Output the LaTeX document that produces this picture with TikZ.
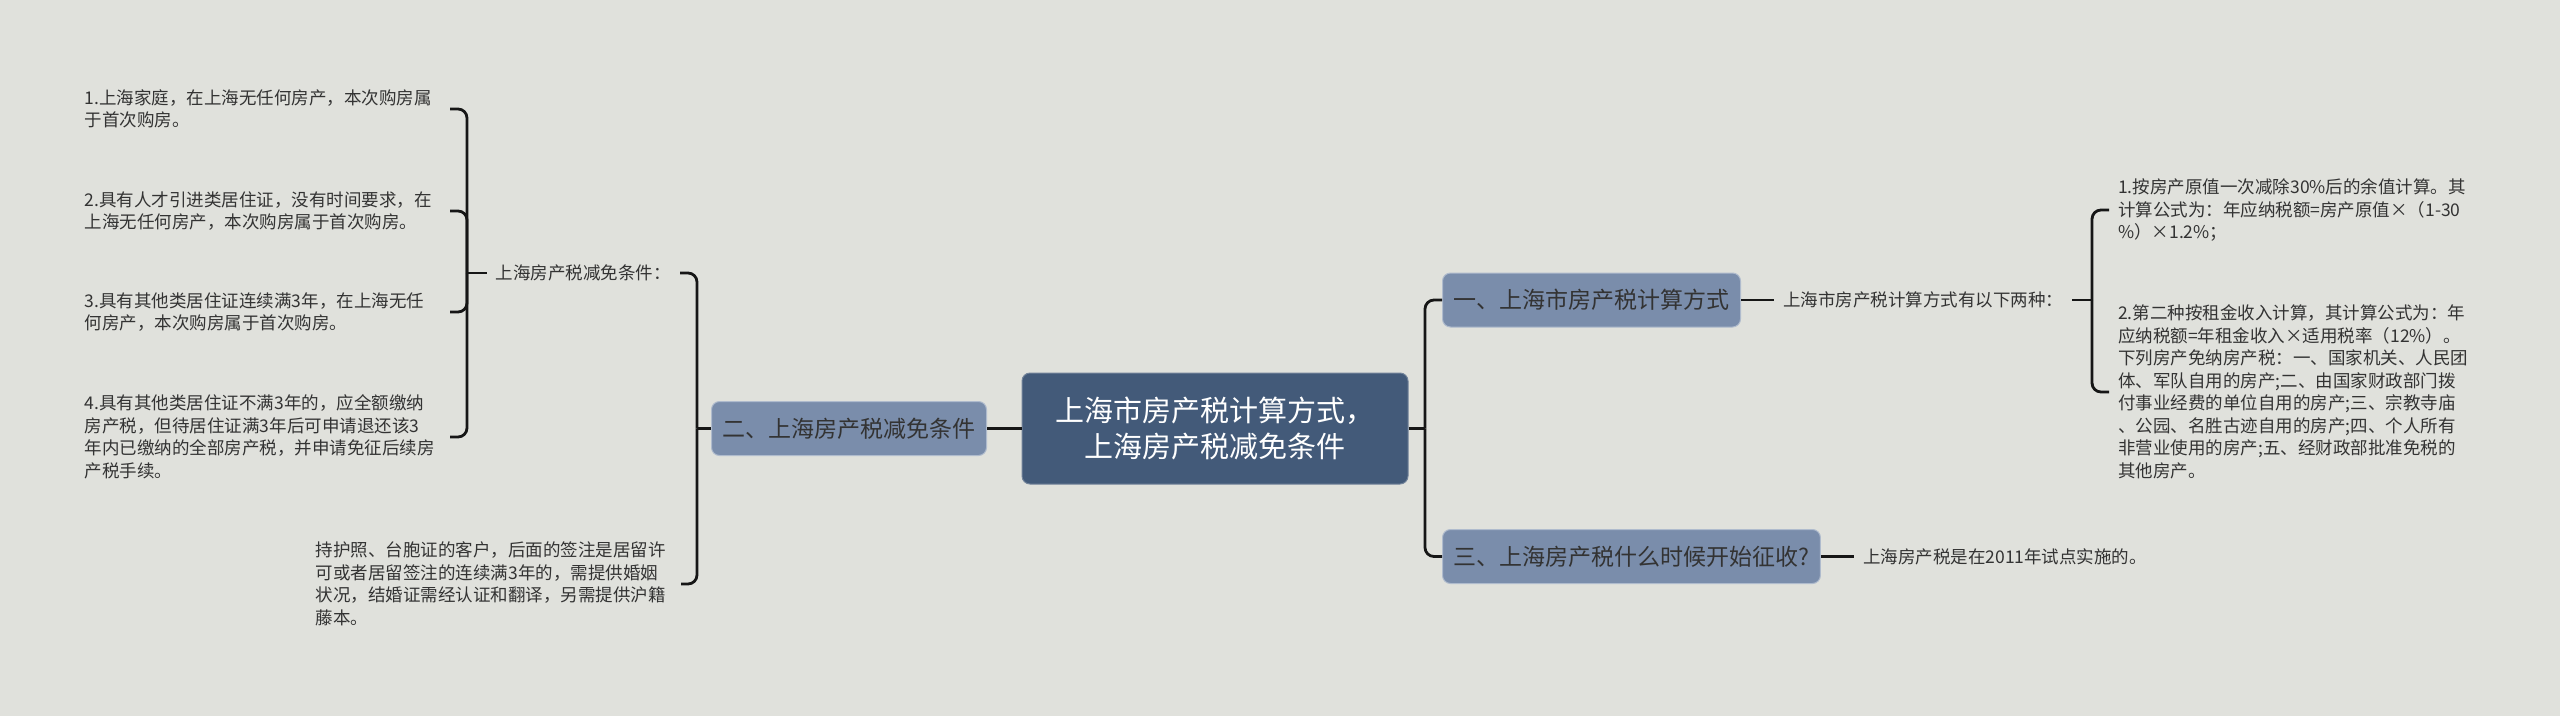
\documentclass[tikz,border=0pt]{standalone}
\usepackage{fontspec}
\setmainfont{Noto Sans CJK SC}
\usepackage{tikz}
\usetikzlibrary{positioning}
\definecolor{bgc}{HTML}{E0E1DC}
\definecolor{rootc}{HTML}{435A79}
\definecolor{topicc}{HTML}{7A8DAB}
\definecolor{linec}{HTML}{161616}
\definecolor{txtc}{HTML}{333333}

\begin{document}
\begin{tikzpicture}[x=1pt, y=-1pt,
  font=\fontsize{17.5}{22.5}\selectfont,
  rootbox/.style={draw=rootc!75!white, line width=1pt, fill=rootc, rounded corners=8pt, text=white, align=center,
    minimum width=386pt, minimum height=111pt, font=\fontsize{29}{36}\selectfont},
  topic/.style={draw=topicc!60!white, line width=1pt, fill=topicc, rounded corners=8pt, text=txtc,
    minimum height=54pt, inner xsep=11pt, font=\fontsize{23}{28}\selectfont},
  leaf/.style={text=txtc, inner xsep=9pt, inner ysep=3pt, align=left},
  leafbox/.style={leaf, text width=356pt},
  conn/.style={draw=linec, line width=2.8pt, rounded corners=9pt},
  node distance=33pt]
  \fill[bgc] (0,0) rectangle (2560,716);
  \useasboundingbox (0,0) rectangle (2560,716);

  \node[rootbox] (root) at (1215,428.5) {上海市房产税计算方式，\\上海房产税减免条件};
  \node[topic, anchor=west] (b1) at (1442,300) {一、上海市房产税计算方式};
  \node[topic, anchor=east] (b2) at (987,428.5) {二、上海房产税减免条件};
  \node[topic, anchor=west] (b3) at (1442,556.5) {三、上海房产税什么时候开始征收?};

  \node[leaf, right=of b1] (calc) {上海市房产税计算方式有以下两种：};
  \node[leaf, right=of b3] (start) {上海房产税是在2011年试点实施的。};
  \node[leafbox, anchor=west] (r1) at (2109,210) {1.按房产原值一次减除30\%后的余值计算。其\\计算公式为：年应纳税额=房产原值×（1-30\\\%）×1.2\%；};
  \node[leafbox, anchor=west] (r2) at (2109,392) {2.第二种按租金收入计算，其计算公式为：年\\应纳税额=年租金收入×适用税率（12\%）。\\下列房产免纳房产税：一、国家机关、人民团\\体、军队自用的房产;二、由国家财政部门拨\\付事业经费的单位自用的房产;三、宗教寺庙\\、公园、名胜古迹自用的房产;四、个人所有\\非营业使用的房产;五、经财政部批准免税的\\其他房产。};

  \node[leaf, anchor=east] (cond) at (680,273) {上海房产税减免条件：};
  \node[leafbox, anchor=east] (l1) at (450,109) {1.上海家庭，在上海无任何房产，本次购房属\\于首次购房。};
  \node[leafbox, anchor=east] (l2) at (450,211) {2.具有人才引进类居住证，没有时间要求，在\\上海无任何房产，本次购房属于首次购房。};
  \node[leafbox, anchor=east] (l3) at (450,312) {3.具有其他类居住证连续满3年，在上海无任\\何房产，本次购房属于首次购房。};
  \node[leafbox, anchor=east] (l4) at (450,437) {4.具有其他类居住证不满3年的，应全额缴纳\\房产税，但待居住证满3年后可申请退还该3\\年内已缴纳的全部房产税，并申请免征后续房\\产税手续。};
  \node[leafbox, anchor=east] (l5) at (681,584) {持护照、台胞证的客户，后面的签注是居留许\\可或者居留签注的连续满3年的，需提供婚姻\\状况，结婚证需经认证和翻译，另需提供沪籍\\藤本。};

  \coordinate (rj) at (1425,428.5);
  \coordinate (lj) at (697,428.5);
  \coordinate (cj) at (467,273);
  \coordinate (kj) at (2092,300);

  \draw[conn] (root.east) -- (rj);
  \draw[conn] (rj) |- (b1.west);
  \draw[conn] (rj) |- (b3.west);
  \draw[conn] (root.west) -- (b2.east);
  \draw[conn] (b2.west) -- (lj);
  \draw[conn] (lj) |- (cond.east);
  \draw[conn] (lj) |- (l5.east);
  \draw[conn] (cond.west) -- (cj);
  \foreach \n in {l1,l2,l3,l4}
    \draw[conn] (cj) |- (\n.east);
  \draw[conn] (b1.east) -- (calc.west);
  \draw[conn] (calc.east) -- (kj);
  \draw[conn] (kj) |- (r1.west);
  \draw[conn] (kj) |- (r2.west);
  \draw[conn] (b3.east) -- (start.west);
\end{tikzpicture}
\end{document}
